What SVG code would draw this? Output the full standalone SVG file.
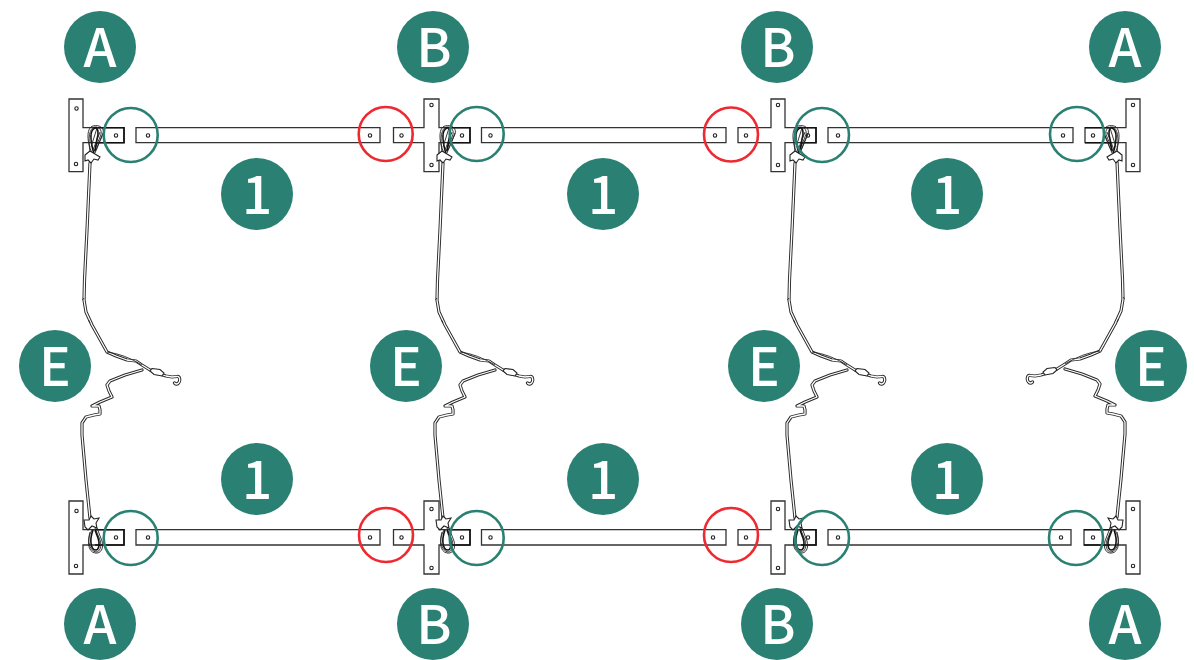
<svg xmlns="http://www.w3.org/2000/svg" width="1194" height="660" viewBox="0 0 1194 660">
<style>
.badge circle{fill:#2a8072}
.badge text{fill:#fff;font-family:"Noto Sans CJK SC","Noto Sans",sans-serif;font-size:53px;font-weight:500;text-anchor:middle}
.part{fill:#fff;stroke:#333;stroke-width:1.3}
.hole{fill:#fff;stroke:#222;stroke-width:1.1}
.hl{fill:none;stroke-width:2.6}
.g{stroke:#2a8072}.r{stroke:#ee2a30}
.wo{fill:none;stroke:#2a2a2a;stroke-width:3.2;stroke-linejoin:round;stroke-linecap:round}
.wi{fill:none;stroke:#fff;stroke-width:1.3;stroke-linejoin:round;stroke-linecap:round}
.thin{fill:none;stroke:#222;stroke-width:.9}
.blk{fill:none;stroke:#111;stroke-width:1.6}
.clip{fill:#fff;stroke:#222;stroke-width:1.1}
</style>
<defs>
<path id="wa" d="M90 163L87 230L84.500 280L84 300L86 312L92 325L107 352L116 356L127 360L136 361L142 365L150 370L157 373L166 376L172 377L177 376.500C180 376 180.500 381 178.500 383C177 384.500 175.500 384 174.500 383"/>
<path id="wb" d="M142 370L125 375L110 381L107 385L109 391L112 397L100 402L92 406L99 406L100 410L100 414L94 415L86 417L82 423L82 435L86 480L90 518"/>
<g id="wires">
<use href="#wa" class="wo"/><use href="#wa" class="wi"/>
<use href="#wb" class="wo"/><use href="#wb" class="wi"/>
<path class="thin" d="M107 352Q124 354 142 365"/>
<path class="clip" d="M152 368.500L160 369.500L164 373L162 376L154 374.500L150 371Z"/>
<path class="thin" d="M84 298l-1.500 2M90 323l-1.500 -3"/>
</g>
<g id="ttop">
<path class="thin" d="M92 153C86 140 87 127 93 126C100 124 105 129 103 134L95 153"/>
<path class="thin" d="M90 152C88 138 89 128 95 127C100 127 103 131 100 137L93 154"/>
<path class="blk" d="M94 154C90 140 90 130 95 128C98 127 99 133 97 139L95 151"/>
<path class="thin" d="M93 150L100 132M96 150L103 133M91 147L97 128"/>
<path class="clip" d="M85 155L90 151L95 154L100 157L98 160L94 159L91 163L88 160L85 161Z"/>
</g>
<g id="tbot">
<path class="thin" d="M92 530C86 540 88 552 95 553C101 554 104 548 102 541L97 528"/>
<path class="thin" d="M90 532C87 542 90 551 96 552C100 552 102 546 100 540L95 528"/>
<path class="blk" d="M93 530C89 541 91 550 96 550C99 550 100 543 98 538L95 530"/>
<path class="clip" d="M84 520L89 520L91 516L94 519L99 518L96 523L97 528L92 526L88 530L85 527Z"/>
</g>
</defs>
<g id="plates">
<g id="row-top">
<path class="part" d="M69 99H83V127.700H124V142.700H83V171.700H69Z"/>
<path class="part" d="M136 127.700H380V142.700H136Z"/>
<path class="part" d="M393.500 127.700H424V99H439V127.700H470V142.700H439V171.700H424V142.700H393.500Z"/>
<path class="part" d="M481.500 127.700H726V142.700H481.500Z"/>
<path class="part" d="M738 127.700H771V99H785V127.700H816V142.700H785V171.700H771V142.700H738Z"/>
<path class="part" d="M828 127.700H1073V142.700H828Z"/>
<path class="part" d="M1085 127.700H1126V99H1140V171.700H1126V142.700H1085Z"/>
</g>
<g id="row-bottom">
<path class="part" d="M69 501H83V529.700H124V545H83V574H69Z"/>
<path class="part" d="M136 529.700H380V545H136Z"/>
<path class="part" d="M393.500 529.700H424V501H439V529.700H470V545H439V574H424V545H393.500Z"/>
<path class="part" d="M481.500 529.700H726V545H481.500Z"/>
<path class="part" d="M738 529.700H771V501H785V529.700H816V545H785V574H771V545H738Z"/>
<path class="part" d="M828 529.700H1071V545H828Z"/>
<path class="part" d="M1084 529.700H1126V501H1140V574H1126V545H1084Z"/>
</g>
</g>
<g id="holes">
<g class="hole">
<circle cx="76.500" cy="108.500" r="1.700"/><circle cx="76" cy="164" r="1.700"/><circle cx="116" cy="135.500" r="1.700"/><circle cx="148" cy="135.500" r="1.700"/><circle cx="370" cy="135.500" r="1.700"/><circle cx="401.500" cy="135.500" r="1.700"/><circle cx="431.500" cy="105" r="1.700"/><circle cx="431.500" cy="165" r="1.700"/><circle cx="462" cy="135.500" r="1.700"/><circle cx="490.500" cy="135.500" r="1.700"/><circle cx="715" cy="135.500" r="1.700"/><circle cx="746" cy="135.500" r="1.700"/><circle cx="778" cy="105" r="1.700"/><circle cx="778" cy="165" r="1.700"/><circle cx="808" cy="135.500" r="1.700"/><circle cx="838" cy="135.500" r="1.700"/><circle cx="1063" cy="135.500" r="1.700"/><circle cx="1093" cy="135.500" r="1.700"/><circle cx="1133" cy="105" r="1.700"/><circle cx="1133" cy="165" r="1.700"/>
<circle cx="76.500" cy="511" r="1.700"/><circle cx="76" cy="566" r="1.700"/><circle cx="116" cy="537.500" r="1.700"/><circle cx="148" cy="537.500" r="1.700"/><circle cx="370" cy="537.500" r="1.700"/><circle cx="401.500" cy="537.500" r="1.700"/><circle cx="431.500" cy="509" r="1.700"/><circle cx="431.500" cy="568" r="1.700"/><circle cx="462" cy="537.500" r="1.700"/><circle cx="490.500" cy="537.500" r="1.700"/><circle cx="713" cy="537.500" r="1.700"/><circle cx="746" cy="537.500" r="1.700"/><circle cx="778" cy="509" r="1.700"/><circle cx="778" cy="568" r="1.700"/><circle cx="808" cy="537.500" r="1.700"/><circle cx="838" cy="537.500" r="1.700"/><circle cx="1061" cy="537.500" r="1.700"/><circle cx="1093" cy="537.500" r="1.700"/><circle cx="1133" cy="509" r="1.700"/><circle cx="1133" cy="566" r="1.700"/>
</g>
</g>
<g id="connectors">
<path class="blk" d="M95 127.700H124V142.700H95M449 127.700H470V142.700H449M801 127.700H816V142.700H801M1085 127.700H1110M1085 142.700H1110M95 529.700H124V545H95M449 529.700H470V545H449M801 529.700H816V545H801M1084 529.700H1110M1084 545H1110"/>
<use href="#wires"/><use href="#ttop"/><use href="#tbot"/>
<use href="#wires" x="353"/><use href="#ttop" x="352"/><use href="#tbot" x="352"/>
<use href="#wires" x="705"/><use href="#ttop" x="705"/><use href="#tbot" x="705"/>
<g transform="translate(1207 -1) scale(-1 1)"><use href="#wires"/><use href="#ttop" y="1"/><use href="#tbot" y="1"/></g>
</g>
<g id="markers">
<circle class="hl g" cx="130.700" cy="135" r="27"/><circle class="hl r" cx="385.700" cy="134" r="27"/><circle class="hl g" cx="476.700" cy="134" r="27"/><circle class="hl r" cx="731" cy="134.500" r="27"/><circle class="hl g" cx="822" cy="135" r="27"/><circle class="hl g" cx="1077" cy="134" r="27"/>
<circle class="hl g" cx="130.700" cy="538" r="27"/><circle class="hl r" cx="386" cy="535" r="27"/><circle class="hl g" cx="476.700" cy="538" r="27"/><circle class="hl r" cx="731" cy="535" r="27"/><circle class="hl g" cx="822" cy="538" r="27"/><circle class="hl g" cx="1076" cy="538" r="27"/>
</g>
<g id="badge-a1" class="badge"><circle cx="100" cy="47" r="36"/><text x="100" y="67">A</text></g>
<g id="badge-b1" class="badge"><circle cx="433" cy="47" r="36"/><text x="434" y="67">B</text></g>
<g id="badge-b2" class="badge"><circle cx="777" cy="47" r="36"/><text x="778" y="67">B</text></g>
<g id="badge-a2" class="badge"><circle cx="1125" cy="47" r="36"/><text x="1125" y="67">A</text></g>
<g id="badge-1a" class="badge"><circle cx="257" cy="194" r="36"/><text x="257" y="214">1</text></g>
<g id="badge-1b" class="badge"><circle cx="603" cy="194" r="36"/><text x="603" y="214">1</text></g>
<g id="badge-1c" class="badge"><circle cx="947" cy="194" r="36"/><text x="947" y="214">1</text></g>
<g id="badge-e1" class="badge"><circle cx="55" cy="366" r="36"/><text x="55" y="386">E</text></g>
<g id="badge-e2" class="badge"><circle cx="406" cy="366" r="36"/><text x="406" y="386">E</text></g>
<g id="badge-e3" class="badge"><circle cx="764" cy="366" r="36"/><text x="764" y="386">E</text></g>
<g id="badge-e4" class="badge"><circle cx="1151" cy="366" r="36"/><text x="1151" y="386">E</text></g>
<g id="badge-1d" class="badge"><circle cx="257" cy="479" r="36"/><text x="257" y="499">1</text></g>
<g id="badge-1e" class="badge"><circle cx="603" cy="479" r="36"/><text x="603" y="499">1</text></g>
<g id="badge-1f" class="badge"><circle cx="947" cy="479" r="36"/><text x="947" y="499">1</text></g>
<g id="badge-a3" class="badge"><circle cx="100" cy="624" r="36"/><text x="100" y="644">A</text></g>
<g id="badge-b3" class="badge"><circle cx="433" cy="624" r="36"/><text x="434" y="644">B</text></g>
<g id="badge-b4" class="badge"><circle cx="777" cy="624" r="36"/><text x="778" y="644">B</text></g>
<g id="badge-a4" class="badge"><circle cx="1125" cy="624" r="36"/><text x="1125" y="644">A</text></g>
</svg>
